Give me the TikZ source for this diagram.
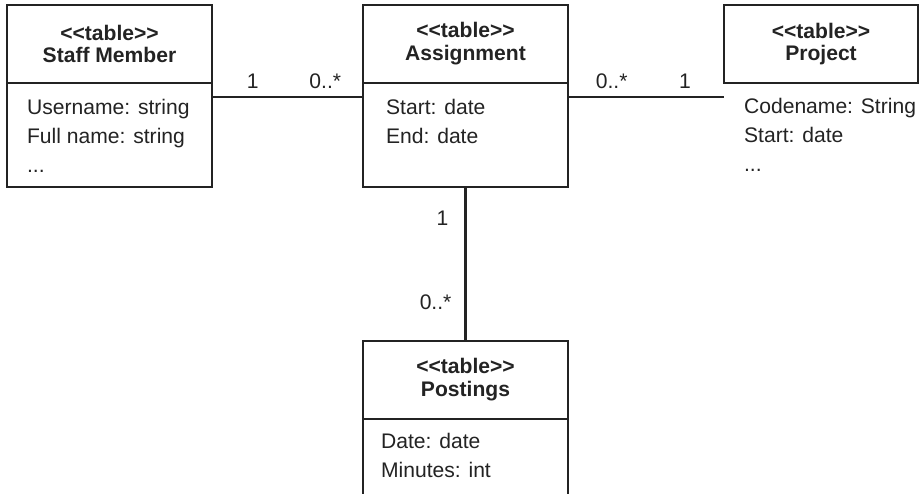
\documentclass[tikz,border=0pt]{standalone}
\usepackage{fontspec}
\setmainfont{Liberation Sans}
\usepackage{tikz}
\usetikzlibrary{positioning}
\definecolor{ink}{RGB}{35,35,35}
\newcommand{\tabletag}{<{}<table>{}>}

\begin{document}
\begin{tikzpicture}[
    color=ink, line width=1.25pt,
    tablehead/.style={draw,rectangle,minimum width=4.1cm,minimum height=1.56cm,inner sep=0pt,outer sep=0pt,align=center,font=\fontsize{12}{13}\selectfont\bfseries},
    tablebody/.style={draw,rectangle,minimum width=4.1cm,minimum height=2.08cm,inner sep=0pt,outer sep=0pt},
    attrs/.style={align=left,inner sep=0pt,font=\fontsize{12}{16.5}\selectfont},
    mult/.style={inner sep=0pt,font=\fontsize{12}{14}\selectfont}
]
    \useasboundingbox (0,0) rectangle (18.38,-9.88);

    % Tables
    \node[tablehead,anchor=north west] (staffHead) at (0.14,-0.10) {\tabletag\\Staff Member};
    \node[tablebody,below=0pt of staffHead] (staffBody) {};
    \node[tablehead,anchor=north west] (assignHead) at (7.26,-0.10) {\tabletag\\Assignment};
    \node[tablebody,below=0pt of assignHead] (assignBody) {};
    \node[tablehead,anchor=north west,minimum width=3.88cm] (projHead) at (14.48,-0.10) {\tabletag\\Project};
    \node[tablehead,anchor=north west] (postHead) at (7.26,-6.82) {\tabletag\\Postings};
    \draw (postHead.south west) -- ++(0,-1.6);
    \draw (postHead.south east) -- ++(0,-1.6);

    % Columns
    \node[attrs,below right=0.30cm and 0.38cm of staffBody.north west] (staffAttrs) {Username: string\\Full name: string\\ ...};
    \node[attrs,below right=0.30cm and 0.44cm of assignBody.north west] (assignAttrs) {Start: date\\End: date};
    \node[attrs,below right=0.28cm and 0.38cm of projHead.south west] (projAttrs) {Codename: String\\Start: date\\...};
    \node[attrs,below right=0.26cm and 0.34cm of postHead.south west] (postAttrs) {Date: date\\Minutes: int};

    % Links and multiplicities
    \draw ([yshift=-0.28cm]staffBody.north east) -- ([yshift=-0.28cm]assignBody.north west)
        node[mult,pos=0.27,above=4pt] (multStaff) {1}
        node[mult,pos=0.75,above=4pt] (multStaffAssign) {0..*};
    \draw ([yshift=-0.28cm]assignBody.north east) -- ([yshift=-0.28cm]projHead.south west)
        node[mult,pos=0.28,above=4pt] (multProjAssign) {0..*}
        node[mult,pos=0.75,above=4pt] (multProj) {1};
    \draw (assignBody.south) -- (postHead.north)
        node[mult,pos=0.2,left=0.32cm] (multAssign) {1}
        node[mult,pos=0.75,left=0.26cm] (multPost) {0..*};
\end{tikzpicture}
\end{document}
